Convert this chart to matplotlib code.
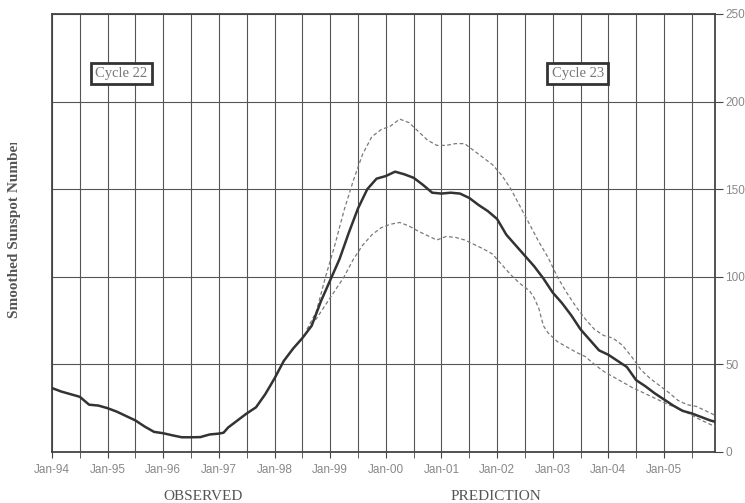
import matplotlib.pyplot as plt
from matplotlib.transforms import Bbox

# month index 0 = Jan-94
obs_months = [0, 2, 4, 6, 8, 10, 12, 14, 16, 18, 20, 22, 24, 26, 28, 30, 32, 34,
              36, 37, 38, 40, 42, 44, 46, 48, 50, 52, 54, 56, 58, 60, 62, 64, 66,
              68, 70, 72, 74, 76, 78, 80, 82, 84, 86, 88, 90, 92, 94, 96, 98, 100,
              102, 104, 106, 108, 110, 112, 114, 116, 118, 120, 122, 124, 126, 128,
              130, 132, 134, 136, 138, 140, 142, 143]
ssn = [36.5, 34.5, 33, 31.5, 27, 26.5, 25, 23, 20.5, 18, 14.5, 11.5, 10.7, 9.5,
       8.4, 8.4, 8.5, 10, 10.5, 11, 14, 18, 22, 25.5, 33, 42, 52, 59, 65, 72, 86,
       98, 110, 125, 139, 150, 156, 157.5, 160, 158.5, 156.5, 152.5, 148, 147.5,
       148, 147.5, 145, 141, 137.5, 133, 124, 118, 112, 106, 99, 91, 85, 78, 70,
       64, 58, 55.5, 52, 48.5, 41, 37.5, 33.5, 30, 26.5, 23.5, 22, 20, 18, 17.3]

up_months = [55, 57, 59, 61, 63, 65, 67, 69, 71, 73, 75, 77, 79, 81, 83, 85, 87,
             89, 91, 93, 95, 97, 99, 101, 103, 105, 107, 109, 111, 113, 115, 117,
             119, 121, 123, 125, 127, 129, 131, 133, 135, 137, 139, 141, 143]
upper = [70, 80, 100, 118, 138, 155, 170, 180, 184, 186, 190, 188, 183, 178, 175,
         175, 176, 176, 172, 168, 164, 158, 150, 140, 130, 120, 111, 100, 91, 83,
         76, 70, 66.5, 65, 61, 54.5, 47, 42, 38, 34, 29.5, 27, 26, 23.5, 21]

low_months = [55, 57, 59, 61, 63, 65, 67, 69, 71, 73, 75, 77, 79, 81, 83, 85, 87,
              89, 91, 93, 95, 97, 99, 101, 103, 104, 105, 106, 107, 109, 111, 113,
              115, 117, 119, 121, 123, 125, 127, 129, 131, 133, 135, 137, 139, 141,
              143]
lower = [70, 76, 84, 92, 100, 110, 118, 124, 128, 130, 131, 129, 126, 123.5, 121,
         123, 122.5, 121, 118.5, 116, 113, 107, 101, 96, 92, 88, 82, 72, 68, 63,
         60, 57, 54.5, 50, 46, 43, 40, 37, 34.5, 32, 29.5, 27, 25, 22.5, 19.5, 17,
         14.5]

tick_labels = ['Jan-94', 'Jan-95', 'Jan-96', 'Jan-97', 'Jan-98', 'Jan-99',
               'Jan-00', 'Jan-01', 'Jan-02', 'Jan-03', 'Jan-04', 'Jan-05']

fig = plt.figure(figsize=(7.45, 5.03), dpi=100)
ax = fig.add_axes([0.0698, 0.1014, 0.8899, 0.8708])

ax.plot(obs_months, ssn, color='#333333', lw=1.8, zorder=4)
ax.plot(up_months, upper, color='#7a7a7a', lw=0.9, ls=(0, (3, 2)), zorder=3)
ax.plot(low_months, lower, color='#7a7a7a', lw=0.9, ls=(0, (3, 2)), zorder=3)

ax.set_xlim(0, 143)
ax.set_ylim(0, 250)
ax.set_xticks(range(0, 144, 12))
ax.set_xticklabels(tick_labels)
ax.set_xticks(range(6, 144, 12), minor=True)
ax.set_yticks(range(0, 251, 50))
ax.yaxis.tick_right()

for lab in ax.get_xticklabels() + ax.get_yticklabels():
    lab.set_fontfamily('Liberation Sans')
    lab.set_fontsize(8.5)
    lab.set_color('#888888')
ax.tick_params(axis='x', which='both', length=4, color='#444444', pad=5)
ax.tick_params(axis='y', length=6, color='#444444', pad=1.5)

ax.grid(True, which='both', color='#555555', lw=0.8)
ax.set_axisbelow(True)
for sp in ax.spines.values():
    sp.set_color('#444444')
    sp.set_linewidth(1.3)

box = dict(boxstyle='square,pad=0.3', fc='white', ec='#333333', lw=2)
ax.text(15, 216, 'Cycle 22', family='Liberation Serif', fontsize=10.5,
        color='#777777', ha='center', va='center', bbox=box, zorder=5)
ax.text(113.4, 216, 'Cycle 23', family='Liberation Serif', fontsize=10.5,
        color='#777777', ha='center', va='center', bbox=box, zorder=5)

# y label is cut off at the top in the original
yl = fig.text(15 / 745, 1 - 318 / 503, 'Smoothed Sunspot Number',
              family='Liberation Serif', weight='bold', fontsize=11,
              color='#555555', rotation=90, ha='center', va='bottom')
yl.set_clip_box(Bbox.from_extents(0, 0, 745, 503 - 143))
yl.set_clip_on(True)

fig.text(203 / 745, 1 - 497 / 503, 'OBSERVED', family='Liberation Serif',
         fontsize=11, color='#555555', ha='center', va='center')
fig.text(496 / 745, 1 - 497 / 503, 'PREDICTION', family='Liberation Serif',
         fontsize=11, color='#555555', ha='center', va='center')

fig.savefig('out.png', dpi=100)
